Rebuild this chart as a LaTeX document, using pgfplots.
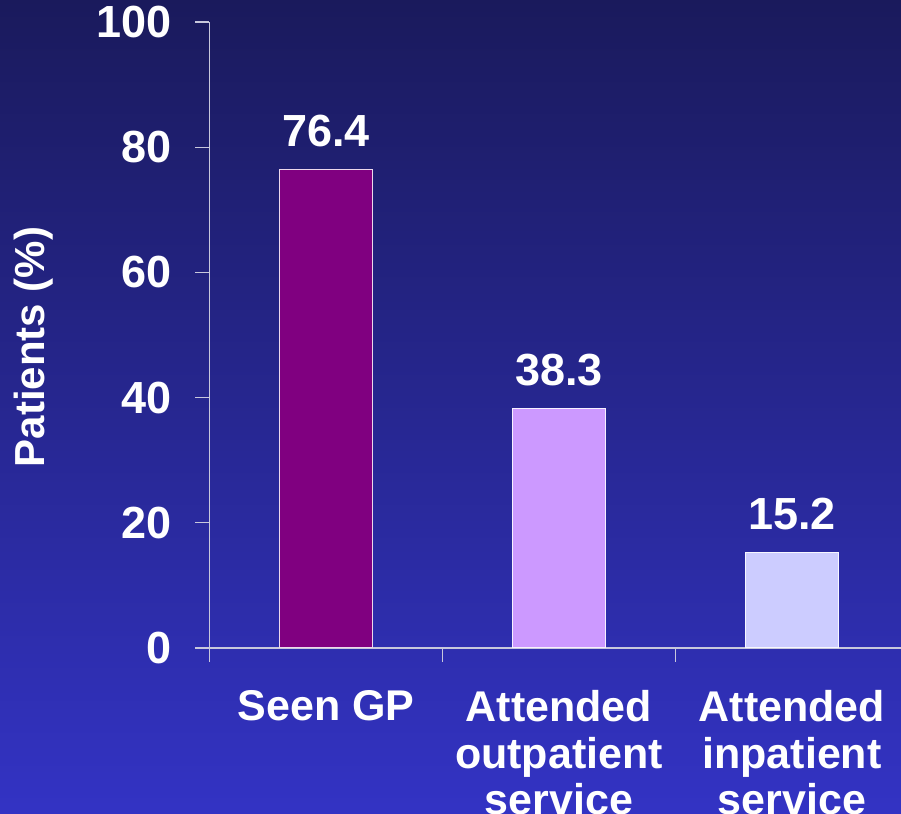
\documentclass[border=0pt]{standalone}
\usepackage{fontspec}
\setmainfont{Liberation Sans}
\usepackage{pgfplots}
\pgfplotsset{compat=1.18}
\definecolor{bgtop}{HTML}{1A1A5C}
\definecolor{bgbot}{HTML}{3333C4}
\definecolor{axisgray}{HTML}{C8C8DC}
\definecolor{barA}{HTML}{800080}
\definecolor{barB}{HTML}{CC99FF}
\definecolor{barC}{HTML}{CCCCFF}
\begin{document}
\begin{tikzpicture}[x=1pt,y=1pt]
\shade[top color=bgtop, bottom color=bgbot] (0,0) rectangle (450.5,407);
\useasboundingbox (0,0) rectangle (450.5,407);
\begin{axis}[
  at={(104.75pt,83pt)}, anchor=south west,
  scale only axis, width=345.75pt, height=313pt,
  xmin=-0.5, xmax=2.468, ymin=0, ymax=100,
  axis x line=bottom, axis y line=left,
  axis line style={-, draw=axisgray, line width=0.6pt},
  tick align=outside, major tick length=7pt,
  tick style={draw=axisgray, line width=0.6pt},
  ytick={0,20,...,100},
  xtick={-0.5,0.5,1.5}, xticklabels={},
  extra x ticks={0,1,2},
  extra x tick labels={{Seen GP},{Attended\\outpatient\\service},{Attended\\inpatient\\service}},
  extra x tick style={major tick length=0pt,
    xticklabel style={anchor=north, inner sep=0pt, yshift=-21pt, align=center,
      font=\fontsize{21.5}{23.25}\selectfont\bfseries, text=white}},
  /pgf/number format/assume math mode=true,
  yticklabel style={font=\fontsize{22.5}{27}\selectfont\bfseries, text=white, anchor=east, inner sep=0pt, xshift=-12pt},
  ylabel={Patients (\%)},
  ylabel style={font=\fontsize{21}{25}\selectfont\bfseries, text=white, at={(axis description cs:-0.254,0.481)}, anchor=center},
  clip=false,
  nodes near coords={\pgfmathprintnumber[fixed,fixed zerofill,precision=1,assume math mode=true]{\pgfplotspointmeta}},
  every node near coord/.append style={font=\fontsize{22.5}{27}\selectfont\bfseries, text=white, anchor=base, inner sep=0pt, yshift=11.5pt},
]
\addplot[ybar, bar width=46.5pt, fill=barA, draw=white!85!barA, line width=0.5pt] coordinates {(0,76.4)};
\addplot[ybar, bar width=46.5pt, fill=barB, draw=white!85!barB, line width=0.5pt] coordinates {(1,38.3)};
\addplot[ybar, bar width=46.5pt, fill=barC, draw=white!85!barC, line width=0.5pt] coordinates {(2,15.2)};
\end{axis}
\end{tikzpicture}
\end{document}
